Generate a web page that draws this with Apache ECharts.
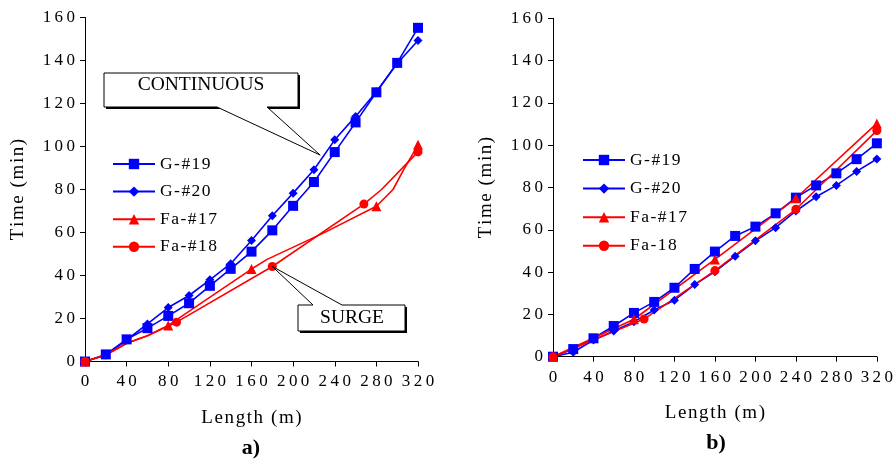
<!DOCTYPE html>
<html>
<head>
<meta charset="utf-8">
<script src="https://cdn.jsdelivr.net/npm/echarts@6/dist/echarts.min.js"></script>
<style>
  html, body { margin: 0; padding: 0; background: #fff; }
  #chart { width: 896px; height: 461px; }
</style>
</head>
<body>
<div id="chart"></div>
<script>
// lengths (m) where the G specimens were read
var lengths = [0, 20, 40, 60, 80, 100, 120, 140, 160, 180, 200, 220, 240, 260, 280, 300, 320]

// a) continuous / surge
var g19a = [0, 3.3, 10.3, 15.5, 21.2, 27.1, 35.2, 43.1, 51.1, 61, 72.4, 83.5, 97.4, 111.2, 125.2, 138.9, 155.2]
var g20a = [0, 3, 10, 17.5, 25.1, 30.7, 38, 45.5, 56.3, 67.8, 78.3, 89.2, 103.1, 114, 125.5, 138.6, 149.3]
var fa17aX = [0, 20, 40, 60, 80, 160, 175, 229, 280, 296, 306, 320]
var fa17aY = [0, 3, 8.5, 12, 16.8, 43, 47.5, 59.7, 72.2, 80, 89, 100.8]
var fa17aMarks = [0, 80, 160, 280, 320]
var fa18aX = [0, 20, 40, 60, 88, 180, 268, 285, 320]
var fa18aY = [0, 3, 8.5, 12, 18.3, 44.2, 73.2, 80, 97.5]
var fa18aMarks = [0, 88, 180, 268, 320]

// b)
var g19b = [0, 3.6, 8.7, 14.5, 20.7, 25.9, 32.6, 41.5, 49.7, 57.1, 61.5, 67.8, 75.2, 81, 86.7, 93.4, 100.9]
var g20b = [0, 2.1, 7.9, 12.2, 16.5, 22.1, 26.7, 34.1, 40.2, 47.5, 54.8, 61, 68.9, 75.6, 81, 87.6, 93.5]
var fa17bX = [0, 80, 160, 240, 320]
var fa17bY = [0, 17.7, 46, 74.9, 110.3]
var fa18bX = [0, 90, 160, 240, 320]
var fa18bY = [0, 17.8, 40.7, 69.7, 106.9]

var namesA = ['G-#19', 'G-#20', 'Fa-#17', 'Fa-#18']
var namesB = ['G-#19', 'G-#20', 'Fa-#17', 'Fa-18']

// callout pointer tips, in data units of panel a)
var continuousTip = [226, 96]
var surgeTip = [180, 44.2]

var FONT = 'Liberation Serif'
var BLUE = '#0000ff'
var RED = '#ff0000'

// the source is set with wide letter spacing; fake it with thin / hair spaces
function wide (s) { return String(s).split('').join('\u2009') }
function loose (s) { return String(s).split('').join('\u200a') }

function pairs (xs, ys, marks) {
  return xs.map(function (x, i) {
    if (marks && marks.indexOf(x) < 0) return { value: [x, ys[i]], symbol: 'none' }
    return [x, ys[i]]
  })
}

function xAxisFor (grid) {
  return {
    type: 'value', gridIndex: grid, min: 0, max: 320, interval: 40,
    name: loose('Length (m)'), nameLocation: 'middle', nameGap: 47,
    nameTextStyle: { fontFamily: FONT, fontSize: 19, color: '#000' },
    axisLine: { lineStyle: { color: '#000', width: 1 } },
    axisTick: { length: 5, lineStyle: { color: '#000' } },
    axisLabel: { margin: 12, fontFamily: FONT, fontSize: 17, color: '#000', formatter: wide },
    splitLine: { show: false }
  }
}
function yAxisFor (grid) {
  return {
    type: 'value', gridIndex: grid, min: 0, max: 160, interval: 20,
    name: loose('Time (min)'), nameLocation: 'middle', nameGap: 57,
    nameTextStyle: { fontFamily: FONT, fontSize: 19, color: '#000' },
    axisLine: { show: true, lineStyle: { color: '#000', width: 1 } },
    axisTick: { show: true, length: 5, lineStyle: { color: '#000' } },
    axisLabel: { margin: 10, fontFamily: FONT, fontSize: 17, color: '#000', formatter: wide },
    splitLine: { show: false }
  }
}

function line (name, color, symbol, size, data, idx) {
  return {
    type: 'line', name: name, xAxisIndex: idx, yAxisIndex: idx,
    data: data, symbol: symbol, symbolSize: size, showSymbol: true,
    lineStyle: { color: color, width: 1.6 },
    itemStyle: { color: color },
    animation: false
  }
}

function legendAt (left, top, gap, names) {
  return {
    data: names, orient: 'vertical', left: left, top: top,
    itemWidth: 42, itemHeight: 13, itemGap: gap,
    formatter: loose,
    textStyle: { fontFamily: FONT, fontSize: 17.5, lineHeight: 18, color: '#000' }
  }
}

var chart = echarts.init(document.getElementById('chart'))

chart.setOption({
  backgroundColor: '#fff',
  animation: false,
  textStyle: { fontFamily: FONT },
  grid: [
    { left: 85, top: 17.5, width: 333, height: 344 },
    { left: 553, top: 18.3, width: 325, height: 338.4 }
  ],
  xAxis: [xAxisFor(0), xAxisFor(1)],
  yAxis: [yAxisFor(0), yAxisFor(1)],
  legend: [legendAt(107, 150, 9.6, namesA), legendAt(577, 146, 10.6, namesB)],
  series: [
    line('G-#19', BLUE, 'rect', 10, pairs(lengths, g19a), 0),
    line('G-#20', BLUE, 'diamond', 9, pairs(lengths, g20a), 0),
    line('Fa-#17', RED, 'triangle', 10, pairs(fa17aX, fa17aY, fa17aMarks), 0),
    line('Fa-#18', RED, 'circle', 9, pairs(fa18aX, fa18aY, fa18aMarks), 0),
    line('G-#19', BLUE, 'rect', 10, pairs(lengths, g19b), 1),
    line('G-#20', BLUE, 'diamond', 9, pairs(lengths, g20b), 1),
    line('Fa-#17', RED, 'triangle', 10, pairs(fa17bX, fa17bY), 1),
    line('Fa-18', RED, 'circle', 9, pairs(fa18bX, fa18bY), 1)
  ]
})

var tipC = chart.convertToPixel({ gridIndex: 0 }, continuousTip)
var tipS = chart.convertToPixel({ gridIndex: 0 }, surgeTip)
var TFONT = '19.5px "Liberation Serif", serif'

chart.setOption({
  graphic: [
    { type: 'rect', shape: { x: 106, y: 75, width: 194, height: 34 }, style: { fill: '#000' }, z: 100 },
    {
      type: 'polygon', z: 101,
      shape: { points: [[104, 73], [298, 73], [298, 107], [267, 107], tipC, [217, 107], [104, 107]] },
      style: { fill: '#fff', stroke: '#000', lineWidth: 1 }
    },
    { type: 'text', z: 102, x: 201, y: 85, style: { text: 'CONTINUOUS', font: TFONT, fill: '#000', align: 'center', verticalAlign: 'middle' } },
    { type: 'rect', shape: { x: 300, y: 307, width: 107, height: 26 }, style: { fill: '#000' }, z: 100 },
    {
      type: 'polygon', z: 101,
      shape: { points: [[298, 305], [313, 305], tipS, [342, 305], [405, 305], [405, 331], [298, 331]] },
      style: { fill: '#fff', stroke: '#000', lineWidth: 1 }
    },
    { type: 'text', z: 102, x: 352, y: 318, style: { text: 'SURGE', font: TFONT, fill: '#000', align: 'center', verticalAlign: 'middle' } },
    { type: 'text', x: 251, y: 448, style: { text: 'a)', font: 'bold 22px "Liberation Serif", serif', fill: '#000', align: 'center', verticalAlign: 'middle' } },
    { type: 'text', x: 716, y: 443, style: { text: 'b)', font: 'bold 22px "Liberation Serif", serif', fill: '#000', align: 'center', verticalAlign: 'middle' } }
  ]
})
</script>
</body>
</html>
